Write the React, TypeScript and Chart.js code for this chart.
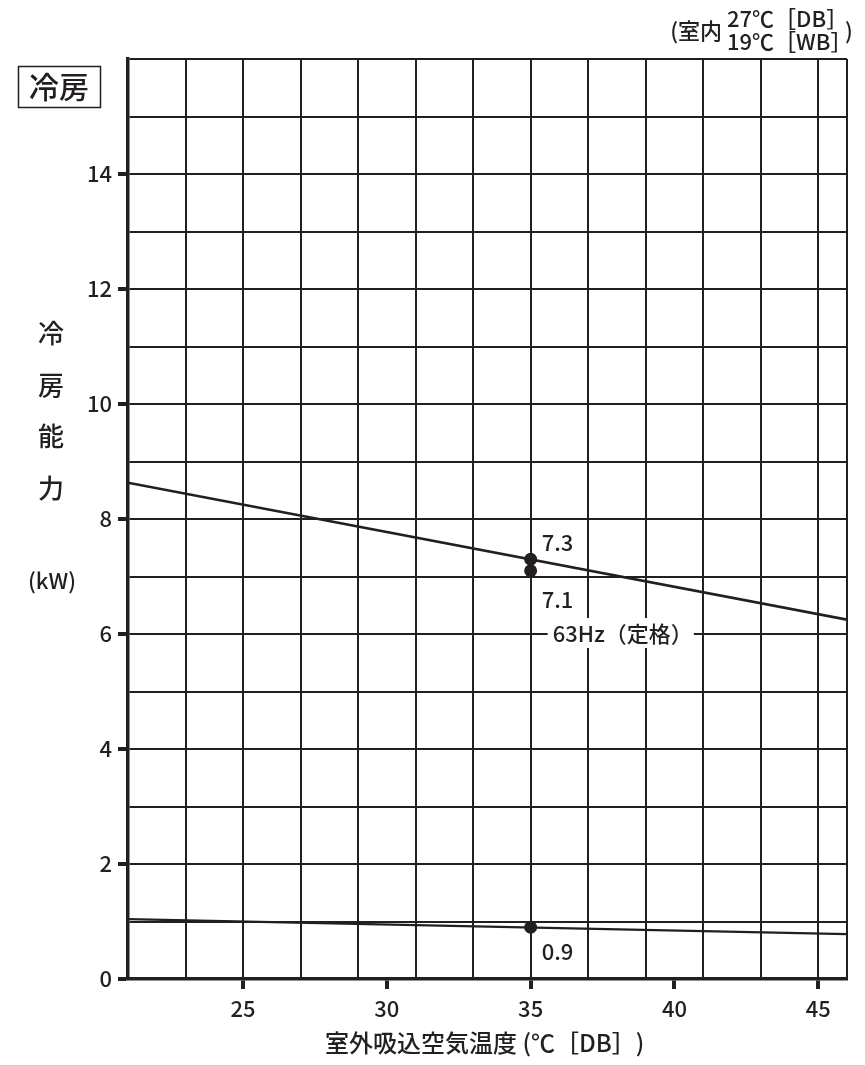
import React, { useEffect, useRef } from "react";
import { Chart, registerables } from "chart.js";

Chart.register(...registerables);

// ---- axis configuration ----
const xMin = 21;
const xMax = 46;
const yMin = 0;
const yMax = 16;
const xGridValues = [21, 23, 25, 27, 29, 31, 33, 35, 37, 39, 41, 43, 45, 46];
const xLabelValues = [25, 30, 35, 40, 45];
const yLabelValues = [0, 2, 4, 6, 8, 10, 12, 14];

// ---- series ----
const upperLineX = [21, 46];
const upperLineY = [8.63, 6.25];
const lowerLineX = [21, 46];
const lowerLineY = [1.04, 0.78];

const pointX = [35, 35, 35];
const pointY = [7.3, 7.1, 0.9];
const pointLabels = ["7.3", "7.1", "0.9"];

// ---- texts ----
const curveLabel = "63Hz（定格）";
const curveLabelX = 35;
const curveLabelY = 6;
const boxTitle = "冷房";
const yTitleChars = ["冷", "房", "能", "力"];
const yUnit = "(kW)";
const xTitle = "室外吸込空気温度 (℃［DB］)";
const noteLead = "(室内";
const noteLines = ["27℃［DB］", "19℃［WB］"];
const noteTail = ")";

const INK = "#231f20";
const FONT = '"Noto Sans CJK JP", "Noto Sans", sans-serif';
const W = "500";
const CLEAR = "rgba(0,0,0,0)";

const labelOffsets = [
  [11, -17],
  [11, 29],
  [11, 24],
];

const textPlugin = {
  id: "texts",
  afterDatasetsDraw(chart: any) {
    const ctx = chart.ctx as CanvasRenderingContext2D;
    const xs = chart.scales.x;
    const ys = chart.scales.y;
    ctx.save();
    ctx.fillStyle = INK;
    ctx.textBaseline = "middle";

    // point value labels
    ctx.font = `${W} 22px ${FONT}`;
    ctx.textAlign = "left";
    pointLabels.forEach((t, i) => {
      const px = xs.getPixelForValue(pointX[i]);
      const py = ys.getPixelForValue(pointY[i]);
      ctx.fillText(t, px + labelOffsets[i][0], py + labelOffsets[i][1]);
    });

    // curve label with white background
    const cx = xs.getPixelForValue(curveLabelX) + 22;
    const cy = ys.getPixelForValue(curveLabelY);
    const w = ctx.measureText(curveLabel).width;
    ctx.fillStyle = "#ffffff";
    ctx.fillRect(cx - 5, cy - 16, w + 6, 30);
    ctx.fillStyle = INK;
    ctx.fillText(curveLabel, cx, cy);

    // boxed title
    ctx.font = `${W} 30px ${FONT}`;
    ctx.textAlign = "center";
    ctx.fillText(boxTitle, 59, 87);
    ctx.lineWidth = 1.5;
    ctx.strokeStyle = INK;
    ctx.strokeRect(18.5, 66.5, 82, 41);

    // vertical y title
    ctx.font = `${W} 26px ${FONT}`;
    yTitleChars.forEach((c, i) => {
      ctx.fillText(c, 51, 333 + i * 51.7);
    });
    ctx.font = `${W} 22px ${FONT}`;
    ctx.fillText(yUnit, 52, 581);

    // x title
    ctx.font = `${W} 24px ${FONT}`;
    ctx.textAlign = "left";
    ctx.fillText(xTitle, 325, 1043);

    // top-right note
    ctx.font = `${W} 22px ${FONT}`;
    ctx.textAlign = "right";
    ctx.fillText(noteLead, 722, 31);
    ctx.textAlign = "left";
    ctx.fillText(noteLines[0], 727, 19);
    ctx.fillText(noteLines[1], 727, 42);
    ctx.fillText(noteTail, 845, 31);

    ctx.restore();
  },
};

export default function App() {
  const ref = useRef<HTMLCanvasElement | null>(null);

  useEffect(() => {
    if (!ref.current) return;
    const chart = new Chart(ref.current, {
      type: "scatter",
      data: {
        datasets: [
          {
            label: "upper",
            data: upperLineX.map((x, i) => ({ x, y: upperLineY[i] })),
            showLine: true,
            borderColor: INK,
            borderWidth: 2.6,
            pointRadius: 0,
          },
          {
            label: "lower",
            data: lowerLineX.map((x, i) => ({ x, y: lowerLineY[i] })),
            showLine: true,
            borderColor: INK,
            borderWidth: 2.2,
            pointRadius: 0,
          },
          {
            label: "points",
            data: pointX.map((x, i) => ({ x, y: pointY[i] })),
            showLine: false,
            pointRadius: 6.5,
            pointBackgroundColor: INK,
            pointBorderWidth: 0,
          },
        ],
      },
      options: {
        animation: false,
        responsive: false,
        events: [],
        layout: { padding: { top: 59, right: 18, left: 0, bottom: 0 } },
        plugins: {
          legend: { display: false },
          tooltip: { enabled: false },
        },
        scales: {
          x: {
            type: "linear",
            min: xMin,
            max: xMax,
            afterBuildTicks: (scale: any) => {
              const vals = Array.from(new Set([...xGridValues, ...xLabelValues])).sort((a, b) => a - b);
              scale.ticks = vals.map((v) => ({ value: v }));
            },
            afterFit: (scale: any) => {
              scale.height = 86;
            },
            grid: {
              color: (c: any) => (c.tick && xGridValues.includes(c.tick.value) ? INK : CLEAR),
              lineWidth: 2,
              drawTicks: true,
              tickLength: 10,
              tickWidth: 4,
              tickColor: (c: any) => (c.tick && xLabelValues.includes(c.tick.value) ? INK : CLEAR),
            },
            border: { display: true, color: INK, width: 3.5 },
            ticks: {
              autoSkip: false,
              maxRotation: 0,
              padding: 6,
              color: INK,
              font: { family: FONT, size: 22, weight: W },
              callback: (v: any) => (xLabelValues.includes(Number(v)) ? String(v) : ""),
            },
          },
          y: {
            type: "linear",
            min: yMin,
            max: yMax,
            afterFit: (scale: any) => {
              scale.width = 128;
            },
            grid: {
              color: INK,
              lineWidth: 2,
              drawTicks: true,
              tickLength: 10,
              tickWidth: 4,
              tickColor: (c: any) => (c.tick && yLabelValues.includes(c.tick.value) ? INK : CLEAR),
            },
            border: { display: true, color: INK, width: 3.5 },
            ticks: {
              stepSize: 1,
              autoSkip: false,
              padding: 6,
              color: INK,
              font: { family: FONT, size: 22, weight: W },
              callback: (v: any) => (yLabelValues.includes(Number(v)) ? String(v) : ""),
            },
          },
        },
      },
      plugins: [textPlugin],
    } as any);
    return () => chart.destroy();
  }, []);

  return (
    <div style={{ position: "absolute", left: 0, top: 0, width: 865, height: 1065, background: "#fff" }}>
      <canvas ref={ref} width={865} height={1065} style={{ display: "block", width: 865, height: 1065 }} />
    </div>
  );
}
